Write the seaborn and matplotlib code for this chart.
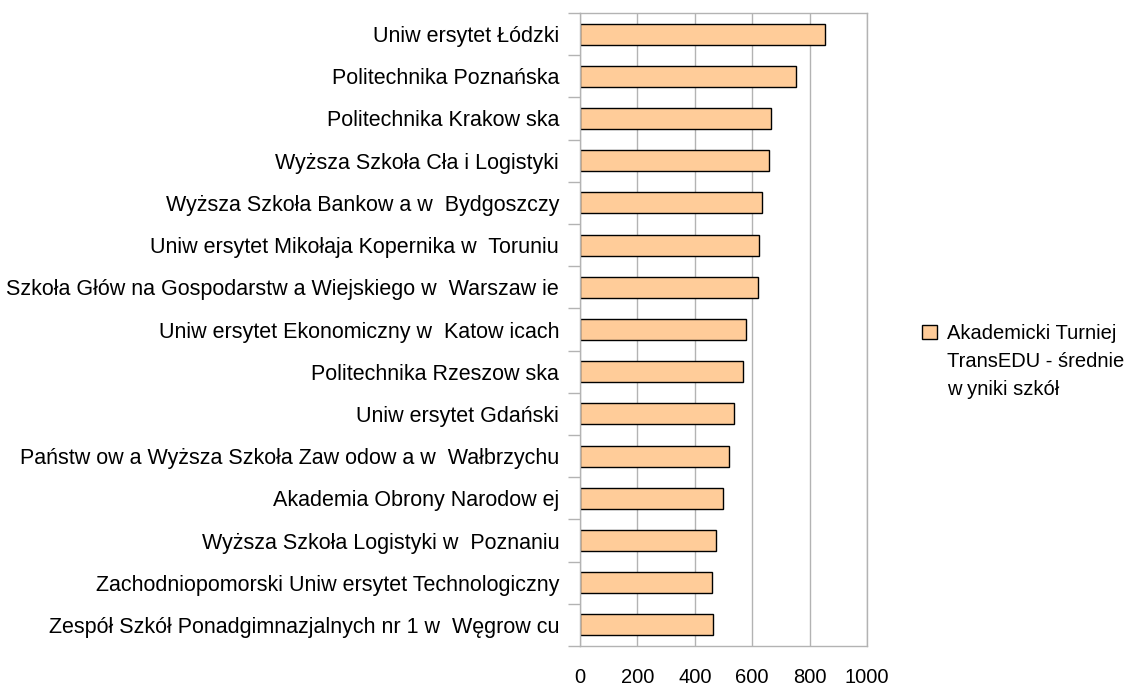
import numpy as np
import pandas as pd
import matplotlib
matplotlib.use("Agg")
import matplotlib.pyplot as plt
import matplotlib.patches as mpatches
import seaborn as sns
from matplotlib.ticker import FixedLocator

# data (top to bottom)
schools = [
    "Uniw ersytet Łódzki",
    "Politechnika Poznańska",
    "Politechnika Krakow ska",
    "Wyższa Szkoła Cła i Logistyki",
    "Wyższa Szkoła Bankow a w  Bydgoszczy",
    "Uniw ersytet Mikołaja Kopernika w  Toruniu",
    "Szkoła Głów na Gospodarstw a Wiejskiego w  Warszaw ie",
    "Uniw ersytet Ekonomiczny w  Katow icach",
    "Politechnika Rzeszow ska",
    "Uniw ersytet Gdański",
    "Państw ow a Wyższa Szkoła Zaw odow a w  Wałbrzychu",
    "Akademia Obrony Narodow ej",
    "Wyższa Szkoła Logistyki w  Poznaniu",
    "Zachodniopomorski Uniw ersytet Technologiczny",
    "Zespół Szkół Ponadgimnazjalnych nr 1 w  Węgrow cu",
]
scores = [855, 753, 667, 659, 635, 622, 620, 579, 567, 535, 519, 497, 473, 459, 465]
series_lines = ["Akademicki Turniej", "TransEDU - średnie", "w yniki szkół"]
x_ticks = [0, 200, 400, 600, 800, 1000]

df = pd.DataFrame({"school": schools, "score": scores})

sns.set_style("white")
plt.rcParams["font.family"] = ["Liberation Sans", "DejaVu Sans"]
plt.rcParams["text.color"] = "black"

grey = "#b3b3b3"
fig = plt.figure(figsize=(11.36, 6.89), dpi=100)
ax = fig.add_axes([580 / 1136, 1 - 646 / 689, (867 - 580) / 1136, (646 - 13) / 689])

sns.barplot(data=df, x="score", y="school", orient="h", color="#ffcc99",
            saturation=1, edgecolor="black", linewidth=1, width=0.5, ax=ax)

ax.set_xlim(0, 1000)
ax.set_xticks(x_ticks)
ax.set_xlabel("")
ax.set_ylabel("")
ax.grid(axis="x", color=grey, linewidth=1)
ax.set_axisbelow(True)
for s in ax.spines.values():
    s.set_color(grey)
    s.set_linewidth(1)

ax.tick_params(axis="x", length=8, color=grey, width=1, pad=7.5,
               labelsize=14.5, labelcolor="black")
ax.tick_params(axis="y", which="major", length=0, pad=15,
               labelsize=15.5, labelcolor="black")
ax.yaxis.set_minor_locator(FixedLocator(np.arange(len(schools) + 1) - 0.5))
ax.tick_params(axis="y", which="minor", left=True, length=8.5, color=grey, width=1)

# legend: first row carries the swatch, the wrapped lines follow without one
swatch = mpatches.Patch(facecolor="#ffcc99", edgecolor="black", linewidth=1)
blank = mpatches.Patch(visible=False)
leg = fig.legend([swatch, blank, blank], series_lines, loc="upper left",
                 bbox_to_anchor=(922 / 1136, 1 - 324 / 689), frameon=False,
                 fontsize=14.5, handlelength=0.72, handleheight=0.72,
                 handletextpad=0.5, labelspacing=0.44,
                 borderpad=0, borderaxespad=0)

fig.savefig("out.png", dpi=100)
